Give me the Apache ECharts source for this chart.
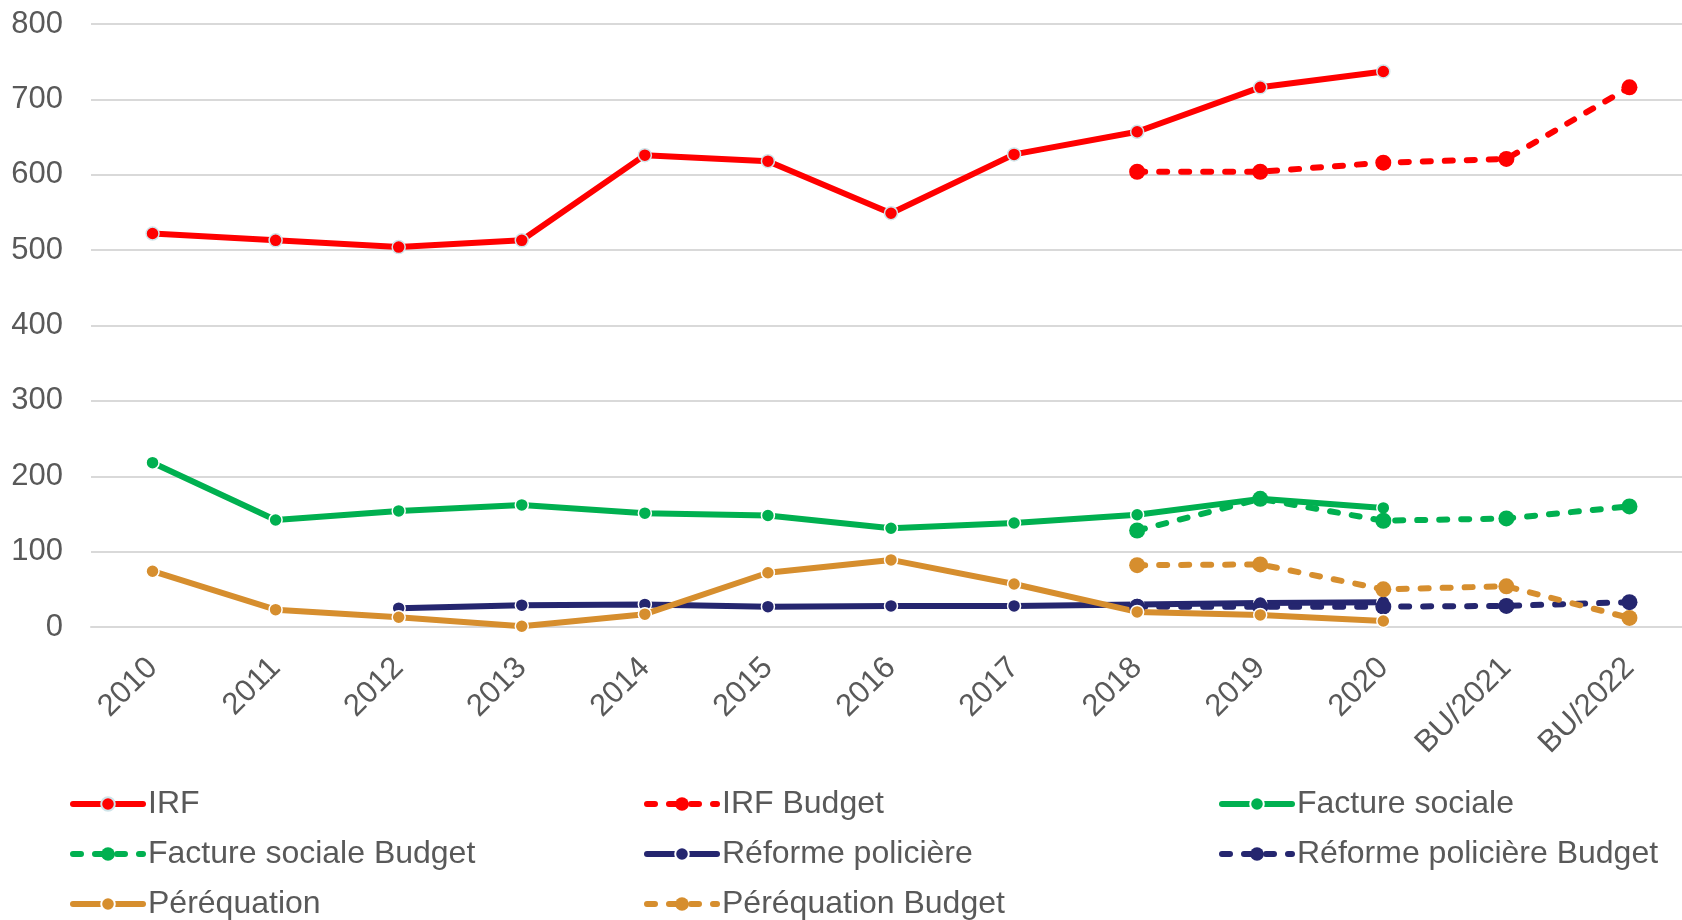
<!DOCTYPE html>
<html>
<head>
<meta charset="utf-8">
<script src="https://cdn.jsdelivr.net/npm/echarts@6/dist/echarts.min.js"></script>
<style>
html,body{margin:0;padding:0;background:#fff;}
#chart{width:1682px;height:920px;}
</style>
</head>
<body>
<div id="chart"></div>
<script>
const categories = ['2010','2011','2012','2013','2014','2015','2016','2017','2018','2019','2020','BU/2021','BU/2022'];
const yTicks = [0,100,200,300,400,500,600,700,800];

const irf = [522,513,504,513,626,618,549,627,657,716,737,null,null];
const irfBudget = [null,null,null,null,null,null,null,null,604,604,616,621,716];
const factureSociale = [218,142,154,162,151,148,131,138,149,170,158,null,null];
const factureSocialeBudget = [null,null,null,null,null,null,null,null,128,170,141,144,160];
const reformePoliciere = [null,null,25,29,30,27,28,28,30,32,33,null,null];
const reformePoliciereBudget = [null,null,null,null,null,null,null,null,27,27,27,28,33];
const perequation = [74,23,13,1,17,72,89,57,20,16,8,null,null];
const perequationBudget = [null,null,null,null,null,null,null,null,82,83,50,54,12];

const names = ['IRF','IRF Budget','Facture sociale','Facture sociale Budget','Réforme policière','Réforme policière Budget','Péréquation','Péréquation Budget'];

const RED = '#FF0000', GREEN = '#00B050', NAVY = '#25266F', ORANGE = '#D68E2E';
const FONT = '"Liberation Sans", Arial, sans-serif';
const TXT = '#595959';

function solid(name, data, color, border) {
  return {
    name, type: 'line', data, connectNulls: false,
    symbol: 'circle', symbolSize: 13,
    lineStyle: {color, width: 6, cap: 'round', join: 'round'},
    itemStyle: {color, borderColor: border, borderWidth: 1.5},
    emphasis: {disabled: true}, animation: false
  };
}
function dashed(name, data, color) {
  return {
    name, type: 'line', data,
    symbol: 'circle', symbolSize: 16,
    lineStyle: {color, width: 6, type: [8, 14], cap: 'round', join: 'round'},
    itemStyle: {color, borderWidth: 0},
    emphasis: {disabled: true}, animation: false
  };
}

const colX = [70, 644, 1219];
const rowY = [788, 838, 888];
const legendPos = [[0,0],[1,0],[2,0],[0,1],[1,1],[2,1],[0,2],[1,2]];
const legends = names.map((n, i) => ({
  left: colX[legendPos[i][0]], top: rowY[legendPos[i][1]],
  data: [n], itemWidth: 70, itemHeight: 17,
  lineStyle: {width: 6, cap: 'round'},
  textStyle: {fontSize: 32, color: TXT, fontFamily: FONT},
  selectedMode: false, padding: 0
}));

const chart = echarts.init(document.getElementById('chart'), null, {renderer: 'canvas'});
chart.setOption({
  backgroundColor: '#fff',
  animation: false,
  textStyle: {fontFamily: FONT},
  grid: {left: 91, right: -9, top: 24, bottom: 293, outerBoundsMode: 'none', containLabel: false},
  legend: legends,
  xAxis: {
    type: 'category', data: categories, boundaryGap: true,
    axisLine: {show: true, lineStyle: {color: '#D9D9D9', width: 2}},
    axisTick: {show: false},
    axisLabel: {rotate: 45, fontSize: 31, color: TXT, margin: 36, interval: 0, fontFamily: FONT}
  },
  yAxis: {
    type: 'value', min: yTicks[0], max: yTicks[yTicks.length-1], interval: 100,
    axisLine: {show: false}, axisTick: {show: false},
    axisLabel: {fontSize: 31, color: TXT, margin: 28, fontFamily: FONT},
    splitLine: {lineStyle: {color: '#D9D9D9', width: 2}}
  },
  series: [
    solid(names[0], irf, RED, '#CFE5EA'),
    dashed(names[1], irfBudget, RED),
    solid(names[2], factureSociale, GREEN, '#FFFFFF'),
    dashed(names[3], factureSocialeBudget, GREEN),
    solid(names[4], reformePoliciere, NAVY, '#FFFFFF'),
    dashed(names[5], reformePoliciereBudget, NAVY),
    solid(names[6], perequation, ORANGE, '#FFFFFF'),
    dashed(names[7], perequationBudget, ORANGE)
  ]
});
</script>
</body>
</html>
